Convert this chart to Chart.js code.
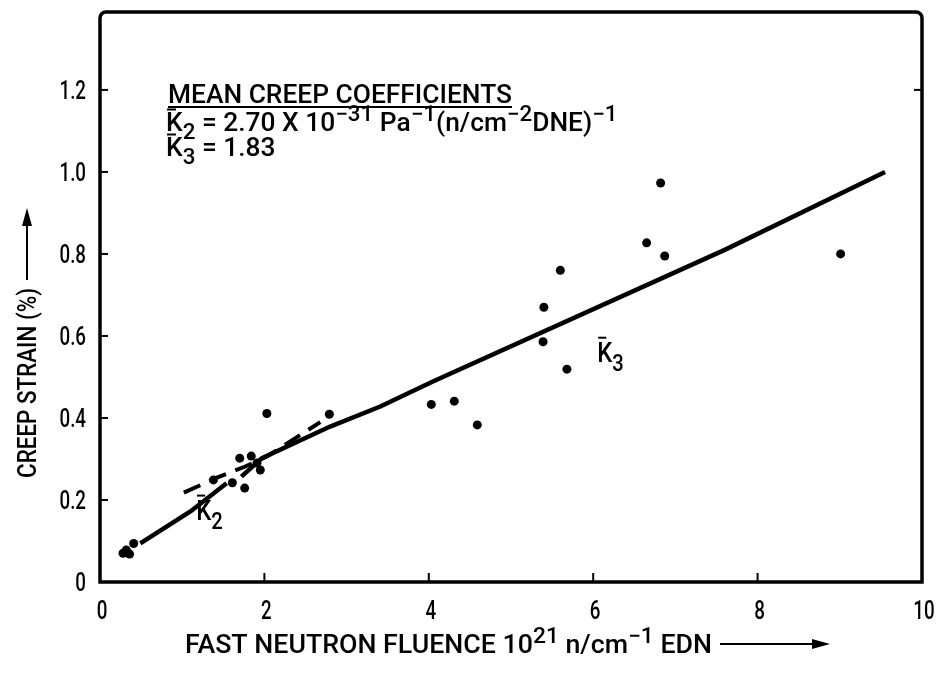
<!DOCTYPE html>
<html>
<head>
<meta charset="utf-8">
<script src="https://cdn.jsdelivr.net/npm/chart.js@4.4.1/dist/chart.umd.min.js"></script>
<style>
  html, body { margin: 0; background: #fff; }
  #wrap { width: 940px; height: 673px; }
</style>
</head>
<body>
<div id="wrap"><canvas id="creepChart"></canvas></div>
<script>
const FONT = 'Roboto,"Liberation Sans",Arial,sans-serif';
const WEIGHT = '500 ';

// measured points (fluence 10^21, creep strain %)
const fluence = [0.28, 0.32, 0.36, 0.41, 1.38, 1.61, 1.70, 1.76, 1.84, 1.91, 1.95, 2.03, 2.79,
                 4.03, 4.31, 4.59, 5.39, 5.40, 5.60, 5.68, 6.65, 6.82, 6.87, 9.01];
const strain  = [0.070, 0.078, 0.068, 0.094, 0.249, 0.242, 0.302, 0.229, 0.307, 0.290, 0.273, 0.411, 0.409,
                 0.433, 0.441, 0.383, 0.586, 0.670, 0.760, 0.519, 0.827, 0.973, 0.795, 0.800];

// K2 / K3 fitted curve (solid)
const fitX = [0.49, 1.10, 1.54, null, 1.72, 1.97, 2.80, 3.41, 4.05, 7.60, 9.55];
const fitY = [0.094, 0.172, 0.241, null, 0.257, 0.302, 0.379, 0.428, 0.489, 0.810, 1.000];

// dashed branch
const dashX = [1.02, 1.43, 1.76, 2.03, 2.68];
const dashY = [0.218, 0.255, 0.281, 0.306, 0.390];

const xTicks = [0, 2, 4, 6, 8, 10];
const xTickLabels = ['0', '2', '4', '6', '8', '10'];
const yTicks = [0, 0.2, 0.4, 0.6, 0.8, 1.0, 1.2];
const yTickLabels = ['0', '0.2', '0.4', '0.6', '0.8', '1.0', '1.2'];

const toXY = (xs, ys) => xs.map((x, i) => x === null ? { x: (xs[i - 1] + xs[i + 1]) / 2, y: null } : { x: x, y: ys[i] });

function partSize(k, size) { return (k === 'sup' || k === 'sub') ? size * 0.85 : size; }

function richWidth(ctx, parts, size) {
  let w = 0;
  for (const [t, k] of parts) {
    ctx.font = WEIGHT + partSize(k, size) + 'px ' + FONT;
    w += ctx.measureText(t).width;
  }
  return w;
}

// text with sub/superscripts and overbar, squeezed horizontally by sx
function rich(ctx, x, y, parts, size, sx) {
  ctx.save();
  ctx.translate(x, y);
  ctx.scale(sx, 1);
  let cx = 0;
  for (const [t, k] of parts) {
    ctx.font = WEIGHT + partSize(k, size) + 'px ' + FONT;
    const dy = k === 'sup' ? -size * 0.42 : k === 'sub' ? size * 0.32 : 0;
    ctx.fillText(t, cx, dy);
    const w = ctx.measureText(t).width;
    if (k === 'bar') {
      ctx.lineWidth = 2;
      ctx.beginPath();
      ctx.moveTo(cx + 1, -size * 0.86);
      ctx.lineTo(cx + w * 0.6, -size * 0.86);
      ctx.stroke();
    }
    cx += w;
  }
  ctx.restore();
  return x + cx * sx;
}

// rich text fitted to a given width
function richFit(ctx, x, y, parts, size, width) {
  return rich(ctx, x, y, parts, size, width / richWidth(ctx, parts, size));
}

function arrow(ctx, x0, y, x1) {
  ctx.save();
  ctx.lineWidth = 2;
  ctx.beginPath();
  ctx.moveTo(x0, y);
  ctx.lineTo(x1 - 12, y);
  ctx.stroke();
  ctx.beginPath();
  ctx.moveTo(x1, y);
  ctx.lineTo(x1 - 18, y - 5);
  ctx.lineTo(x1 - 18, y + 5);
  ctx.closePath();
  ctx.fill();
  ctx.restore();
}

const decorations = {
  id: 'decorations',
  beforeDatasetsDraw(chart) {
    const { ctx, chartArea: a, scales: { x, y } } = chart;
    ctx.save();
    ctx.strokeStyle = '#000';
    ctx.fillStyle = '#000';
    // frame
    ctx.lineWidth = 3.5;
    ctx.beginPath();
    ctx.moveTo(a.left, a.bottom);
    ctx.lineTo(a.left, a.top + 6);
    ctx.arcTo(a.left, a.top, a.left + 6, a.top, 6);
    ctx.lineTo(a.right - 6, a.top);
    ctx.arcTo(a.right, a.top, a.right, a.top + 6, 6);
    ctx.lineTo(a.right, a.bottom);
    ctx.closePath();
    ctx.stroke();
    // inward ticks
    ctx.lineWidth = 2;
    yTicks.slice(1).forEach(v => {
      const py = y.getPixelForValue(v);
      ctx.beginPath(); ctx.moveTo(a.left, py); ctx.lineTo(a.left + 8, py); ctx.stroke();
    });
    ctx.beginPath();
    ctx.moveTo(a.right, y.getPixelForValue(1.2)); ctx.lineTo(a.right - 8, y.getPixelForValue(1.2));
    ctx.stroke();
    xTicks.slice(1, -1).forEach(v => {
      const px = x.getPixelForValue(v);
      ctx.beginPath(); ctx.moveTo(px, a.bottom); ctx.lineTo(px, a.bottom - 9); ctx.stroke();
    });
    // tick labels (tall, condensed)
    const TS = 25, TSX = 0.75;
    yTicks.forEach((v, i) => {
      const parts = [[yTickLabels[i], 'n']];
      const w = richWidth(ctx, parts, TS) * TSX;
      rich(ctx, 86 - w, y.getPixelForValue(v) + 9, parts, TS, TSX);
    });
    xTicks.forEach((v, i) => {
      const parts = [[xTickLabels[i], 'n']];
      const w = richWidth(ctx, parts, TS) * TSX;
      rich(ctx, x.getPixelForValue(v) + 2 - w / 2, a.bottom + 37, parts, TS, TSX);
    });
    ctx.restore();
  },
  afterDraw(chart) {
    const { ctx, scales: { x, y } } = chart;
    ctx.save();
    ctx.fillStyle = '#000';
    ctx.strokeStyle = '#000';
    ctx.textBaseline = 'alphabetic';
    ctx.textAlign = 'left';

    // legend block, one common squeeze taken from the heading
    const head = [['MEAN CREEP COEFFICIENTS', 'n']];
    const bs = 344 / richWidth(ctx, head, 25);
    const e1 = rich(ctx, 168, 103, head, 25, bs);
    ctx.lineWidth = 2;
    ctx.beginPath(); ctx.moveTo(168, 107); ctx.lineTo(e1, 107); ctx.stroke();
    rich(ctx, 166, 131, [['K', 'bar'], ['2', 'sub'], [' = 2.70 X 10', 'n'], ['−31', 'sup'], [' Pa', 'n'], ['−1', 'sup'],
      ['(n/cm', 'n'], ['−2', 'sup'], ['DNE)', 'n'], ['−1', 'sup']], 25, bs);
    rich(ctx, 166, 156, [['K', 'bar'], ['3', 'sub'], [' = 1.83', 'n']], 25, bs);

    // curve labels
    rich(ctx, x.getPixelForValue(6.05), y.getPixelForValue(0.537), [['K', 'bar'], ['3', 'sub']], 28, 0.85);
    rich(ctx, x.getPixelForValue(1.17), y.getPixelForValue(0.152), [['K', 'bar'], ['2', 'sub']], 28, 0.85);

    // x title
    const xe = richFit(ctx, 185, 653, [['FAST NEUTRON FLUENCE 10', 'n'], ['21', 'sup'], [' n/cm', 'n'], ['−1', 'sup'], [' EDN', 'n']], 25, 527);
    arrow(ctx, xe + 8, 644, 830);

    // y title
    ctx.translate(36, 478);
    ctx.rotate(-Math.PI / 2);
    const ye = richFit(ctx, 0, 0, [['CREEP STRAIN (%)', 'n']], 25, 190);
    arrow(ctx, ye + 8, -9, 270);
    ctx.restore();
  }
};

new Chart(document.getElementById('creepChart'), {
  type: 'scatter',
  data: {
    datasets: [
      {
        data: toXY(fluence, strain),
        pointStyle: 'circle',
        pointRadius: 4.5,
        pointBorderWidth: 0,
        pointBackgroundColor: '#000',
        showLine: false,
        order: 0
      },
      {
        data: toXY(fitX, fitY),
        showLine: true,
        spanGaps: false,
        borderColor: '#000',
        borderWidth: 4.5,
        pointRadius: 0,
        order: 1
      },
      {
        data: toXY(dashX, dashY),
        showLine: true,
        borderColor: '#000',
        borderWidth: 4,
        borderDash: [18, 10],
        pointRadius: 0,
        order: 2
      }
    ]
  },
  options: {
    responsive: true,
    maintainAspectRatio: false,
    animation: false,
    layout: { padding: { top: 12, right: 18, left: 0, bottom: 0 } },
    plugins: { legend: { display: false }, tooltip: { enabled: false } },
    scales: {
      x: {
        type: 'linear',
        min: 0,
        max: 10,
        afterBuildTicks: s => { s.ticks = xTicks.map(v => ({ value: v })); },
        afterFit: s => { s.height = 91; s.paddingLeft = 0; s.paddingRight = 0; },
        grid: { display: false, drawTicks: false },
        border: { display: false },
        ticks: { display: false }
      },
      y: {
        type: 'linear',
        min: 0,
        max: 1.39,
        afterBuildTicks: s => { s.ticks = yTicks.map(v => ({ value: v })); },
        afterFit: s => { s.width = 100; s.paddingTop = 0; s.paddingBottom = 0; },
        grid: { display: false, drawTicks: false },
        border: { display: false },
        ticks: { display: false }
      }
    }
  },
  plugins: [decorations]
});
</script>
</body>
</html>
